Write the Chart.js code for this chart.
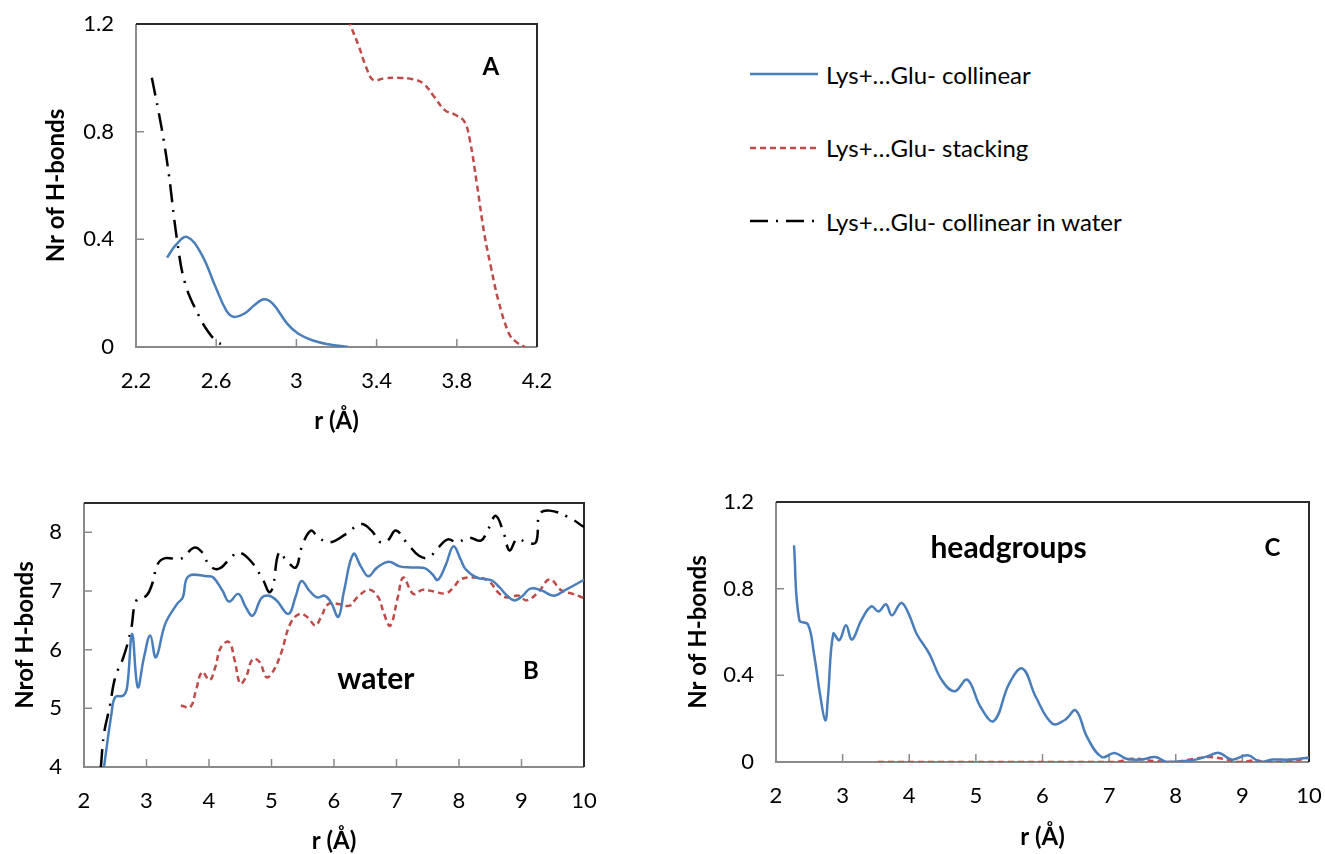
<!DOCTYPE html>
<html>
<head>
<meta charset="utf-8">
<script src="https://cdn.jsdelivr.net/npm/chart.js@4.4.1/dist/chart.umd.min.js"></script>
<style>
  body { margin: 0; background: #fff; }
  #wrap { position: relative; width: 1325px; height: 854px; font-family: Lato, sans-serif; }
  canvas { position: absolute; }
  #chartA { left: 0; top: 0; }
  #chartB { left: 0; top: 470px; }
  #chartC { left: 660px; top: 470px; }
  #legend { position: absolute; left: 750px; top: 54px; }
  .item { display: flex; align-items: center; height: 40px; margin-bottom: 33.5px; font-size: 24px; color: #000; }
  .item svg { margin-right: 8px; }
</style>
</head>
<body>
<div id="wrap">
  <canvas id="chartA" width="560" height="450"></canvas>
  <canvas id="chartB" width="600" height="384"></canvas>
  <canvas id="chartC" width="665" height="384"></canvas>
  <div id="legend"></div>
</div>
<script>
// series names
const labelCollinear = 'Lys+…Glu- collinear';
const labelStacking = 'Lys+…Glu- stacking';
const labelWater = 'Lys+…Glu- collinear in water';

// panel A - r values and number of H-bonds
const aColR = [2.355, 2.40, 2.454, 2.525, 2.597, 2.65, 2.686, 2.74, 2.79, 2.838, 2.882, 2.954, 3.008, 3.079, 3.16, 3.258];
const aColN = [0.332, 0.38, 0.409, 0.347, 0.223, 0.136, 0.112, 0.124, 0.155, 0.177, 0.161, 0.087, 0.05, 0.025, 0.01, 0];
const aStkR = [3.24, 3.267, 3.312, 3.347, 3.383, 3.437, 3.508, 3.58, 3.633, 3.687, 3.74, 3.794, 3.838, 3.865, 3.9, 3.937, 3.97, 4.007, 4.06, 4.096, 4.14];
const aStkN = [1.25, 1.2, 1.116, 1.041, 0.992, 0.998, 1.0, 0.995, 0.979, 0.93, 0.88, 0.862, 0.837, 0.769, 0.607, 0.421, 0.298, 0.174, 0.05, 0.019, 0];
const aWatR = [2.279, 2.311, 2.338, 2.364, 2.405, 2.445, 2.516, 2.561, 2.597, 2.647];
const aWatN = [1.0, 0.88, 0.769, 0.64, 0.397, 0.236, 0.112, 0.056, 0.025, 0];
const aXTicks = [2.2, 2.6, 3, 3.4, 3.8, 4.2];
const aYTicks = [0, 0.4, 0.8, 1.2];

// panel B - water
const bColR = [2.32, 2.44, 2.5, 2.63, 2.69, 2.77, 2.86, 2.96, 3.06, 3.15, 3.3, 3.49, 3.58, 3.67, 3.98, 4.07, 4.22, 4.32, 4.47, 4.59,
  4.7, 4.84, 4.96, 5.08, 5.27, 5.39, 5.48, 5.61, 5.73, 5.85, 5.95, 6.07, 6.16, 6.31, 6.44, 6.55, 6.68, 6.87, 7.05, 7.24,
  7.45, 7.57, 7.66, 7.79, 7.91, 8.03, 8.1, 8.28, 8.52, 8.65, 8.77, 8.89, 9.02, 9.14, 9.32, 9.51, 9.69, 10];
const bColN = [4.0, 4.91, 5.19, 5.22, 5.36, 6.27, 5.36, 5.87, 6.24, 5.87, 6.44, 6.78, 6.89, 7.25, 7.25, 7.23, 7.0, 6.82, 6.95, 6.72,
  6.58, 6.88, 6.92, 6.84, 6.61, 6.92, 7.17, 7.0, 6.89, 6.92, 6.81, 6.56, 7.0, 7.63, 7.4, 7.25, 7.39, 7.5, 7.42, 7.4,
  7.39, 7.29, 7.19, 7.45, 7.76, 7.53, 7.38, 7.23, 7.18, 7.06, 6.92, 6.84, 6.92, 7.04, 7.01, 6.92, 7.01, 7.19];
const bStkR = [3.55, 3.7, 3.79, 3.89, 4.01, 4.1, 4.19, 4.32, 4.41, 4.5, 4.59, 4.7, 4.81, 4.92, 5.02, 5.15, 5.3, 5.45, 5.58, 5.7,
  5.79, 5.91, 6.07, 6.25, 6.37, 6.56, 6.71, 6.8, 6.9, 7.02, 7.11, 7.27, 7.42, 7.6, 7.79, 7.91, 8.03, 8.22, 8.46, 8.65,
  8.77, 8.96, 9.08, 9.27, 9.45, 9.64, 9.82, 10];
const bStkN = [5.05, 5.02, 5.3, 5.62, 5.48, 5.7, 6.04, 6.13, 5.82, 5.42, 5.53, 5.84, 5.79, 5.53, 5.62, 5.93, 6.44, 6.61, 6.55, 6.41,
  6.55, 6.78, 6.78, 6.75, 6.89, 7.02, 6.89, 6.61, 6.41, 6.89, 7.23, 6.95, 7.02, 6.99, 6.96, 7.06, 7.2, 7.23, 7.18, 6.95,
  6.89, 6.92, 6.84, 6.98, 7.2, 7.01, 6.95, 6.88];
const bWatR = [2.27, 2.32, 2.41, 2.5, 2.63, 2.75, 2.84, 3.0, 3.09, 3.18, 3.3, 3.55, 3.76, 3.89, 4.01, 4.16, 4.35, 4.47, 4.66, 4.87,
  4.96, 5.02, 5.12, 5.24, 5.39, 5.48, 5.63, 5.75, 5.94, 6.19, 6.43, 6.6, 6.74, 6.86, 6.99, 7.18, 7.36, 7.51, 7.67, 7.82,
  7.97, 8.16, 8.35, 8.47, 8.59, 8.72, 8.81, 8.93, 9.08, 9.23, 9.29, 9.45, 9.75, 10];
const bWatN = [4.0, 4.57, 5.02, 5.53, 5.87, 6.33, 6.84, 6.92, 7.12, 7.46, 7.56, 7.55, 7.74, 7.66, 7.43, 7.38, 7.57, 7.66, 7.52, 7.18,
  6.98, 7.06, 7.66, 7.52, 7.4, 7.74, 8.03, 7.91, 7.83, 7.97, 8.14, 8.03, 7.83, 7.86, 8.03, 7.8, 7.6, 7.57, 7.74, 7.88,
  7.83, 7.91, 7.86, 8.06, 8.28, 7.97, 7.69, 7.89, 7.83, 7.83, 8.31, 8.37, 8.26, 8.09];
const bXTicks = [2, 3, 4, 5, 6, 7, 8, 9, 10];
const bYTicks = [4, 5, 6, 7, 8];

// panel C - headgroups
const cColR = [2.27, 2.35, 2.48, 2.57, 2.66, 2.74, 2.78, 2.86, 2.95, 3.05, 3.14, 3.28, 3.43, 3.54, 3.65, 3.74, 3.88, 3.99, 4.11, 4.3,
  4.49, 4.68, 4.87, 5.07, 5.27, 5.5, 5.7, 5.9, 6.15, 6.34, 6.5, 6.67, 6.89, 7.08, 7.26, 7.48, 7.69, 7.88, 8.25, 8.47,
  8.65, 8.84, 9.08, 9.27, 9.45, 9.7, 10];
const cColN = [1.0, 0.654, 0.635, 0.5, 0.315, 0.192, 0.3, 0.592, 0.562, 0.631, 0.565, 0.654, 0.718, 0.695, 0.728, 0.677, 0.734, 0.685, 0.592, 0.5,
  0.377, 0.326, 0.38, 0.254, 0.189, 0.362, 0.431, 0.3, 0.177, 0.195, 0.238, 0.115, 0.023, 0.042, 0.015, 0.011, 0.023, 0.0, 0.008, 0.026,
  0.042, 0.011, 0.031, 0.0, 0.011, 0.011, 0.02];
const cStkR = [3.53, 4.5, 5.5, 6.5, 7.1, 7.35, 7.66, 7.97, 8.28, 8.52, 8.77, 8.96, 9.2, 9.33, 9.7, 10];
const cStkN = [0, 0, 0, 0, 0, 0.015, 0.005, 0, 0.015, 0.023, 0.011, 0, 0.008, 0, 0.003, 0.02];
const cXTicks = [2, 3, 4, 5, 6, 7, 8, 9, 10];
const cYTicks = [0, 0.4, 0.8, 1.2];

Chart.defaults.font.family = 'Lato, sans-serif';
Chart.defaults.color = '#000';

// line styles per series
const styles = {
  collinear: { label: labelCollinear, borderColor: '#4A7EBB', borderDash: [] },
  stacking: { label: labelStacking, borderColor: '#BE4B48', borderDash: [6, 4] },
  water: { label: labelWater, borderColor: '#000000', borderDash: [18, 8, 2, 8] }
};

function series(kind, r, n) {
  return {
    ...styles[kind],
    data: r.map((v, i) => ({ x: v, y: n[i] })),
    borderWidth: 2.5,
    pointRadius: 0,
    tension: 0.4,
    fill: false
  };
}

// plot frame with inward tick marks
const frame = {
  id: 'frame',
  beforeDatasetsDraw(chart) {
    const { ctx, chartArea: a, scales: { x, y } } = chart;
    ctx.save();
    ctx.strokeStyle = '#8a8a8a';
    ctx.lineWidth = 1.5;
    ctx.beginPath();
    x.ticks.forEach(t => {
      const px = x.getPixelForValue(t.value);
      if (px > a.left + 2 && px < a.right - 2) { ctx.moveTo(px, a.bottom); ctx.lineTo(px, a.bottom - 8); }
    });
    y.ticks.forEach(t => {
      const py = y.getPixelForValue(t.value);
      if (py > a.top + 2 && py < a.bottom - 2) { ctx.moveTo(a.left, py); ctx.lineTo(a.left + 8, py); }
    });
    ctx.stroke();
    ctx.lineWidth = 2;
    ctx.beginPath();
    ctx.moveTo(a.left, a.top); ctx.lineTo(a.left, a.bottom); ctx.lineTo(a.right, a.bottom);
    ctx.stroke();
    ctx.strokeStyle = '#2b2b2b';
    ctx.beginPath();
    ctx.moveTo(a.left, a.top); ctx.lineTo(a.right, a.top); ctx.lineTo(a.right, a.bottom);
    ctx.stroke();
    ctx.restore();
  }
};

// bold labels inside the plot, placed in data units
function notes(items) {
  return {
    id: 'notes',
    afterDraw(chart) {
      const { ctx, scales: { x, y } } = chart;
      ctx.save();
      ctx.fillStyle = '#000';
      ctx.textAlign = 'center';
      ctx.textBaseline = 'middle';
      items.forEach(it => {
        ctx.font = `bold ${it.size}px Lato, sans-serif`;
        ctx.fillText(it.text, x.getPixelForValue(it.x), y.getPixelForValue(it.y));
      });
      ctx.restore();
    }
  };
}

function makeChart(id, datasets, cfg) {
  const titleFont = { size: 24, weight: 'bold', lineHeight: 1 };
  return new Chart(document.getElementById(id), {
    type: 'line',
    data: { datasets },
    options: {
      responsive: false,
      animation: false,
      layout: { padding: { top: cfg.top, right: cfg.right, left: 0, bottom: 0 } },
      plugins: { legend: { display: false }, tooltip: { enabled: false } },
      scales: {
        x: {
          type: 'linear', min: cfg.xMin, max: cfg.xMax,
          grid: { display: false, drawTicks: false },
          border: { display: false },
          afterBuildTicks: s => { s.ticks = cfg.xTicks.map(v => ({ value: v })); },
          // fixed axis size, no extra padding for the end labels
          afterFit: s => { s.height = cfg.bottom; s.paddingLeft = 0; s.paddingRight = 0; },
          ticks: { font: { size: 22 }, padding: 21, maxRotation: 0, callback: v => String(v) },
          title: { display: true, text: 'r (Å)', font: titleFont, padding: { top: 0, bottom: cfg.xTitlePad } }
        },
        y: {
          min: cfg.yMin, max: cfg.yMax,
          grid: { display: false, drawTicks: false },
          border: { display: false },
          afterBuildTicks: s => { s.ticks = cfg.yTicks.map(v => ({ value: v })); },
          afterFit: s => { s.width = cfg.left; s.paddingTop = 0; s.paddingBottom = 0; },
          ticks: { font: { size: 22 }, padding: 22, callback: v => String(v) },
          title: { display: true, text: cfg.yTitle, font: titleFont, padding: { top: cfg.yTitlePad, bottom: 0 } }
        }
      }
    },
    plugins: [frame, notes(cfg.notes)]
  });
}

const chartA = makeChart('chartA', [
  series('collinear', aColR, aColN),
  series('stacking', aStkR, aStkN),
  series('water', aWatR, aWatN)
], {
  xMin: 2.2, xMax: 4.2, xTicks: aXTicks, yMin: 0, yMax: 1.2, yTicks: aYTicks,
  left: 136, right: 23, top: 24, bottom: 103, xTitlePad: 17, yTitlePad: 44,
  yTitle: 'Nr of H-bonds',
  notes: [{ text: 'A', x: 3.97, y: 1.04, size: 24 }]
});

makeChart('chartB', [
  series('collinear', bColR, bColN),
  series('stacking', bStkR, bStkN),
  series('water', bWatR, bWatN)
], {
  xMin: 2, xMax: 10, xTicks: bXTicks, yMin: 4, yMax: 8.5, yTicks: bYTicks,
  left: 84, right: 16, top: 33, bottom: 87, xTitlePad: 1, yTitlePad: 13,
  yTitle: 'Nrof H-bonds',
  notes: [{ text: 'water', x: 6.67, y: 5.5, size: 30 }, { text: 'B', x: 9.15, y: 5.64, size: 24 }]
});

makeChart('chartC', [
  series('collinear', cColR, cColN),
  series('stacking', cStkR, cStkN)
], {
  xMin: 2, xMax: 10, xTicks: cXTicks, yMin: 0, yMax: 1.2, yTicks: cYTicks,
  left: 116, right: 16, top: 32, bottom: 92, xTitlePad: 5, yTitlePad: 26,
  yTitle: 'Nr of H-bonds',
  notes: [{ text: 'headgroups', x: 5.49, y: 0.986, size: 30 }, { text: 'C', x: 9.45, y: 0.986, size: 24 }]
});

// html legend built from panel A series
const legendBox = document.getElementById('legend');
chartA.data.datasets.forEach(ds => {
  const row = document.createElement('div');
  row.className = 'item';
  row.innerHTML = `<svg width="68" height="10"><line x1="0" y1="5" x2="68" y2="5" stroke="${ds.borderColor}" stroke-width="2.5" stroke-dasharray="${ds.borderDash.join(' ')}"/></svg><span>${ds.label}</span>`;
  legendBox.appendChild(row);
});
</script>
</body>
</html>
